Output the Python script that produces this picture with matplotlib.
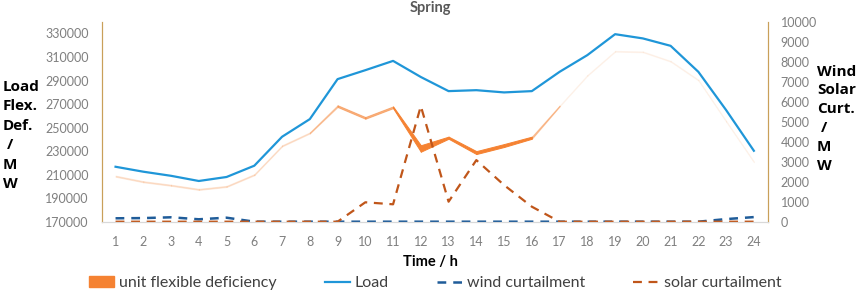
import numpy as np
import matplotlib.pyplot as plt
from matplotlib.patches import Patch
from matplotlib.lines import Line2D

plt.rcParams['font.family'] = ['Lato', 'DejaVu Sans']

# datos
hours = list(range(1, 25))
load = [216700, 212500, 209000, 204600, 208000, 217600, 242200, 257200,
        291200, 298800, 306700, 293000, 281000, 281800, 279900, 281000,
        297400, 311600, 329400, 325800, 319500, 297400, 264900, 230300]
flex_base = [208200, 203500, 200500, 197000, 199500, 209500, 234000, 245000,
             267500, 257500, 266500, 229500, 240500, 227500, 233500, 240500,
             268000, 294000, 314500, 314000, 306000, 290000, 255000, 220500]
flex_deficiency = [950, 950, 950, 950, 950, 950, 950, 950,
                   1500, 1500, 1500, 5500, 1800, 2500, 2500, 1800,
                   750, 750, 750, 750, 750, 750, 750, 750]
wind_curt = [170, 180, 220, 120, 200, 0, 0, 0, 0, 0, 0, 0,
             0, 0, 0, 0, 0, 0, 0, 0, 0, 0, 130, 230]
solar_curt = [0, 0, 0, 0, 0, 0, 0, 0, 0, 970, 870, 5780,
              1000, 3080, 1830, 750, 0, 0, 0, 0, 0, 0, 0, 0]

ORANGE = '#f58232'
BLUE = '#1f96d8'
WIND = '#1f5c99'
SOLAR = '#c0561a'
SPINE = '#c9a05a'
GREY = '#7f7f7f'

fig = plt.figure(figsize=(8.58, 2.95), dpi=100)
ax = fig.add_axes([0.1185, 0.2485, 0.7763, 0.6779])
ax2 = ax.twinx()

# area de deficiencia flexible, tramo por tramo
base = np.array(flex_base)
top = base + np.array(flex_deficiency)
for i in range(len(hours) - 1):
    t = (flex_deficiency[i] + flex_deficiency[i + 1]) / 2
    a = float(np.clip((t - 700) / 1400, 0.07, 1))
    ax.fill_between(hours[i:i + 2], base[i:i + 2], top[i:i + 2],
                    color=ORANGE, alpha=a, lw=0.7)

ax.plot(hours, load, color=BLUE, lw=1.6)

ax2.plot(hours, wind_curt, color=WIND, lw=1.8, ls=(0, (3.5, 2.8)))
ax2.plot(hours, solar_curt, color=SOLAR, lw=1.6, ls=(0, (4, 3)))

ax.set_xlim(0.5, 24.5)
ax.set_ylim(170000, 340000)
ax2.set_ylim(0, 10000)
ax.set_xticks(hours)
ax.set_yticks(range(170000, 330001, 20000))
ax2.set_yticks(range(0, 10001, 1000))

for a_ in (ax, ax2):
    a_.tick_params(length=0, labelsize=9, colors=GREY, pad=9.4)
    a_.spines['top'].set_visible(False)
    a_.spines['bottom'].set_color('#d9d9d9')
    a_.spines['left'].set_color(SPINE)
    a_.spines['right'].set_color(SPINE)
ax.tick_params(axis='x', pad=10)

fig.text(0.5012, 0.972, 'Spring', ha='center', va='center', fontsize=10.5,
         fontweight='bold', color='#595959')
fig.text(0.003, 0.541, 'Load\nFlex.\nDef.\n /\nM\nW', ha='left', va='center',
         fontsize=11, fontweight='bold', color='black', linespacing=1.5,
         family='Open Sans')
fig.text(0.952, 0.597, 'Wind\nSolar\nCurt.\n /\nM\nW', ha='left', va='center',
         fontsize=11, fontweight='bold', color='black', linespacing=1.45,
         family='Open Sans')
fig.text(0.5012, 0.112, 'Time / h', ha='center', va='center', fontsize=10.5,
         fontweight='bold', color='black')

handles = [Patch(color=ORANGE),
           Line2D([], [], color=BLUE, lw=1.6),
           Line2D([], [], color=WIND, lw=1.8, ls=(0, (3.5, 2.8))),
           Line2D([], [], color=SOLAR, lw=1.6, ls=(0, (4, 3)))]
labels = ['unit flexible deficiency', 'Load', 'wind curtailment', 'solar curtailment']
fig.legend(handles, labels, loc='center', bbox_to_anchor=(0.507, 0.04), ncol=4,
           frameon=False, fontsize=11.5, labelcolor='#404040', handlelength=1.6,
           handletextpad=0.3, columnspacing=3.0, borderaxespad=0)

fig.savefig('out.png', dpi=100)
